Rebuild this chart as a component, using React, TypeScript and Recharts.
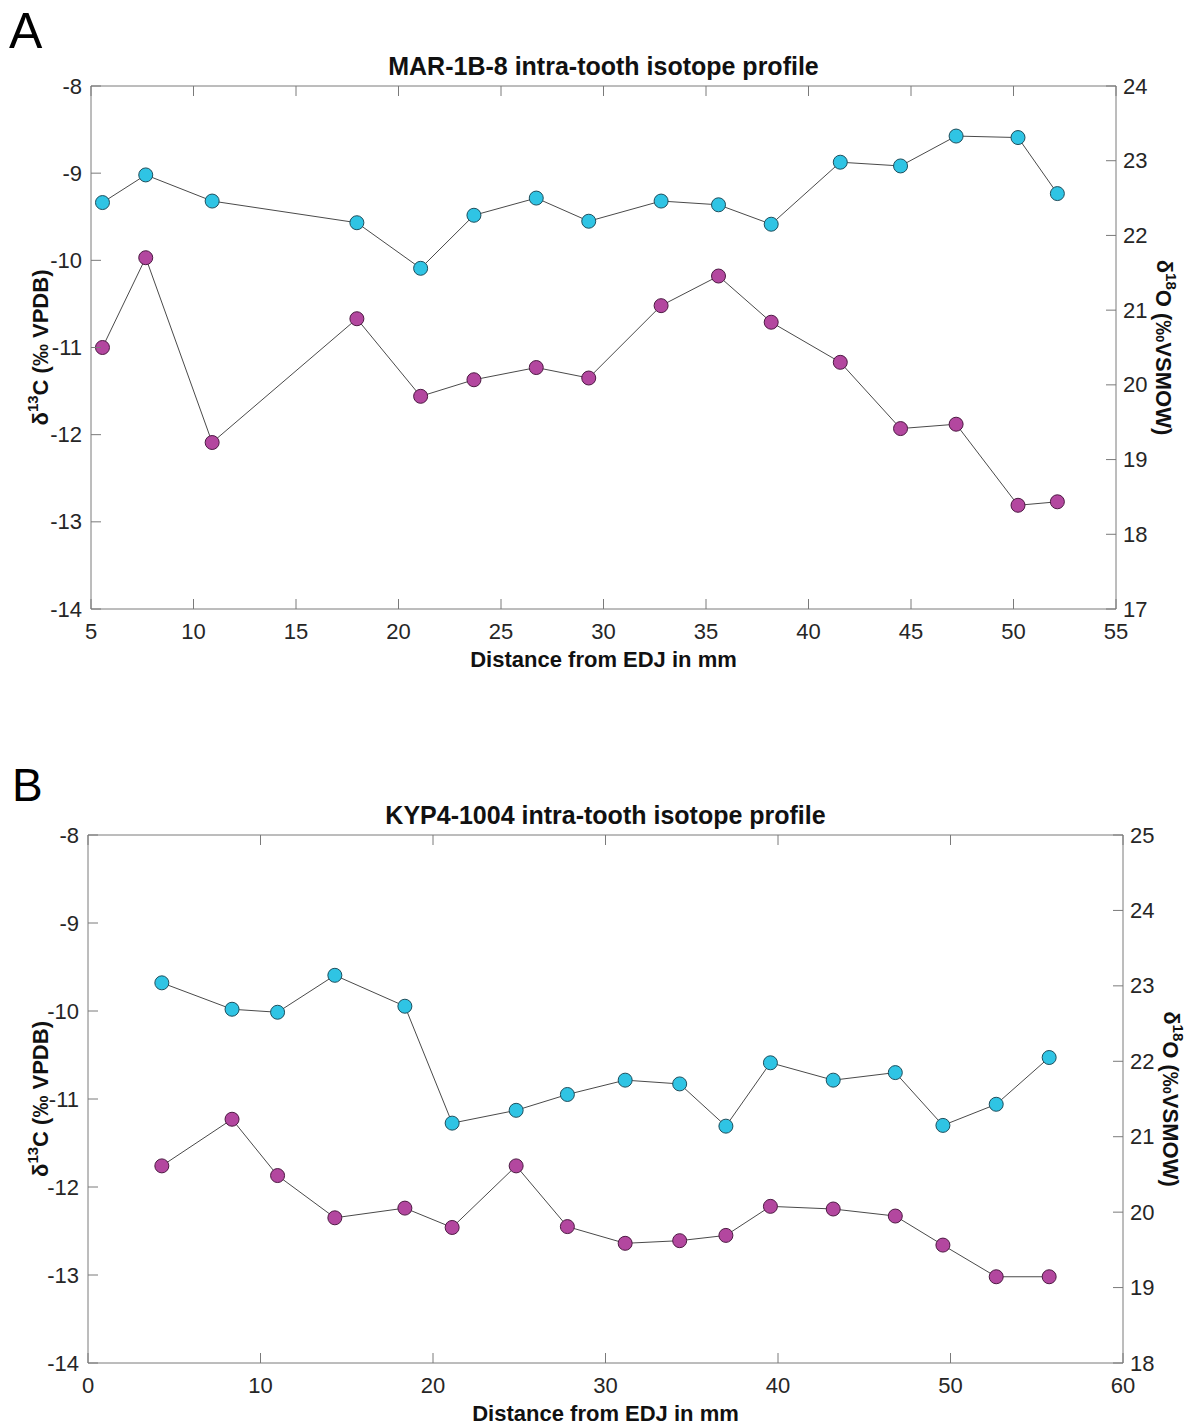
import React from "react";
import { LineChart, Line, XAxis, YAxis } from "recharts";

// Panel A - MAR-1B-8
const distA = [5.56, 7.67, 10.91, 17.97, 21.08, 23.68, 26.72, 29.28, 32.81, 35.61, 38.18, 41.55, 44.49, 47.2, 50.22, 52.14];
const carbonA = [-11.0, -9.97, -12.09, -10.67, -11.56, -11.37, -11.23, -11.35, -10.52, -10.18, -10.71, -11.17, -11.93, -11.88, -12.81, -12.77];
const oxygenA = [22.44, 22.81, 22.46, 22.17, 21.56, 22.27, 22.5, 22.19, 22.46, 22.41, 22.15, 22.98, 22.93, 23.33, 23.31, 22.56];

// Panel B - KYP4-1004
const distB = [4.28, 8.35, 10.99, 14.31, 18.37, 21.11, 24.82, 27.79, 31.14, 34.3, 36.98, 39.56, 43.2, 46.8, 49.56, 52.65, 55.72];
const carbonB = [-11.76, -11.23, -11.87, -12.35, -12.24, -12.46, -11.76, -12.45, -12.64, -12.61, -12.55, -12.22, -12.25, -12.33, -12.66, -13.02, -13.02];
const oxygenB = [23.04, 22.69, 22.65, 23.14, 22.73, 21.18, 21.35, 21.56, 21.75, 21.7, 21.14, 21.98, 21.75, 21.85, 21.15, 21.43, 22.05];

const xTicksA = [5, 10, 15, 20, 25, 30, 35, 40, 45, 50, 55];
const xTicksB = [0, 10, 20, 30, 40, 50, 60];
const carbonTicks = [-14, -13, -12, -11, -10, -9, -8];
const oxygenTicksA = [17, 18, 19, 20, 21, 22, 23, 24];
const oxygenTicksB = [18, 19, 20, 21, 22, 23, 24, 25];

const FONT = "'Liberation Sans', Arial, sans-serif";
const AXIS = "#7a7a7a";
const TEXT = "#262626";
const CYAN = "#2fc4e4";
const PURPLE = "#b3479f";
const GAP = 22; // tick label offset
const TICK = 10; // inward tick length

function BottomTick(props: any) {
  const { x, y, payload } = props;
  const ay = y - GAP;
  return (
    <g>
      <line x1={x} x2={x} y1={ay} y2={ay - TICK} stroke={AXIS} />
      <text x={x} y={y} textAnchor="middle" dominantBaseline="central" fontSize={22} fontFamily={FONT} fill={TEXT}>
        {payload.value}
      </text>
    </g>
  );
}

function TopTick(props: any) {
  const { x, y } = props;
  return <line x1={x} x2={x} y1={y} y2={y + TICK} stroke={AXIS} />;
}

function LeftTick(props: any) {
  const { x, y, payload } = props;
  const ax = x + 9;
  return (
    <g>
      <line x1={ax} x2={ax + TICK} y1={y} y2={y} stroke={AXIS} />
      <text x={x} y={y} textAnchor="end" dominantBaseline="central" fontSize={22} fontFamily={FONT} fill={TEXT}>
        {payload.value}
      </text>
    </g>
  );
}

function RightTick(props: any) {
  const { x, y, payload } = props;
  const ax = x - 7;
  return (
    <g>
      <line x1={ax} x2={ax - TICK} y1={y} y2={y} stroke={AXIS} />
      <text x={x} y={y} textAnchor="start" dominantBaseline="central" fontSize={22} fontFamily={FONT} fill={TEXT}>
        {payload.value}
      </text>
    </g>
  );
}

function XLabel(props: any) {
  const vb = props.viewBox;
  return (
    <text x={vb.x + vb.width / 2} y={vb.y + 50} textAnchor="middle" dominantBaseline="central" fontSize={22} fontWeight="bold" fontFamily={FONT} fill="#111">
      Distance from EDJ in mm
    </text>
  );
}

function CarbonLabel(props: any) {
  const vb = props.viewBox;
  const cx = vb.x + 40;
  const cy = vb.y + vb.height / 2;
  return (
    <text transform={`rotate(-90 ${cx} ${cy})`} x={cx} y={cy} textAnchor="middle" dominantBaseline="central" fontSize={22} fontWeight="bold" fontFamily={FONT} fill="#111">
      δ<tspan dy={-8} fontSize={15}>13</tspan>
      <tspan dy={8}>C (‰ VPDB)</tspan>
    </text>
  );
}

function OxygenLabel(props: any) {
  const vb = props.viewBox;
  const cx = vb.x + 48;
  const cy = vb.y + vb.height / 2;
  return (
    <text transform={`rotate(90 ${cx} ${cy})`} x={cx} y={cy} textAnchor="middle" dominantBaseline="central" fontSize={22} fontWeight="bold" fontFamily={FONT} fill="#111">
      δ<tspan dy={-8} fontSize={15}>18</tspan>
      <tspan dy={8}>O (‰VSMOW)</tspan>
    </text>
  );
}

type PanelProps = {
  letter: string;
  letterSize: number;
  letterTop: number;
  letterLeft: number;
  title: string;
  dist: number[];
  carbon: number[];
  oxygen: number[];
  xTicks: number[];
  oxygenTicks: number[];
  top: number;
  height: number;
  plotTop: number;
  plotBottom: number;
  plotLeft: number;
  plotRight: number;
};

function Panel(p: PanelProps) {
  const data = p.dist.map((d, i) => ({ dist: d, carbon: p.carbon[i], oxygen: p.oxygen[i] }));
  const xDomain = [p.xTicks[0], p.xTicks[p.xTicks.length - 1]];
  const oDomain = [p.oxygenTicks[0], p.oxygenTicks[p.oxygenTicks.length - 1]];
  const marginTop = p.plotTop - p.top - 1;
  const marginBottom = p.top + p.height - p.plotBottom - 60;

  return (
    <div style={{ position: "absolute", left: 0, top: p.top, width: 1188, height: p.height }}>
      <div
        style={{
          position: "absolute",
          left: p.letterLeft,
          top: p.letterTop,
          fontFamily: FONT,
          fontSize: p.letterSize,
          lineHeight: `${Math.round(p.letterSize * 1.12)}px`,
          color: "#000",
        }}
      >
        {p.letter}
      </div>
      <div
        style={{
          position: "absolute",
          left: p.plotLeft,
          width: p.plotRight - p.plotLeft,
          top: marginTop - 34,
          textAlign: "center",
          fontFamily: FONT,
          fontWeight: "bold",
          fontSize: 25,
          lineHeight: "30px",
          color: "#111",
        }}
      >
        {p.title}
      </div>
      <LineChart
        width={1188}
        height={p.height}
        data={data}
        margin={{ top: marginTop, right: 0, bottom: marginBottom, left: 0 }}
        style={{ position: "absolute", left: 0, top: 0 }}
      >
        <XAxis
          dataKey="dist"
          type="number"
          domain={xDomain}
          ticks={p.xTicks}
          interval={0}
          height={60}
          tickSize={0}
          tickMargin={GAP}
          tickLine={false}
          tick={<BottomTick />}
          axisLine={{ stroke: AXIS }}
          label={<XLabel />}
        />
        <XAxis
          xAxisId="top"
          orientation="top"
          dataKey="dist"
          type="number"
          domain={xDomain}
          ticks={p.xTicks}
          interval={0}
          height={1}
          tickSize={0}
          tickMargin={0}
          tickLine={false}
          tick={<TopTick />}
          axisLine={{ stroke: AXIS }}
        />
        <YAxis
          yAxisId="left"
          type="number"
          domain={[-14, -8]}
          ticks={carbonTicks}
          interval={0}
          width={p.plotLeft}
          tickSize={0}
          tickMargin={9}
          tickLine={false}
          tick={<LeftTick />}
          axisLine={{ stroke: AXIS }}
          label={<CarbonLabel />}
        />
        <YAxis
          yAxisId="right"
          orientation="right"
          type="number"
          domain={oDomain}
          ticks={p.oxygenTicks}
          interval={0}
          width={1188 - p.plotRight}
          tickSize={0}
          tickMargin={7}
          tickLine={false}
          tick={<RightTick />}
          axisLine={{ stroke: AXIS }}
          label={<OxygenLabel />}
        />
        <Line
          yAxisId="right"
          dataKey="oxygen"
          type="linear"
          stroke="#4a4a4a"
          strokeWidth={1}
          dot={{ r: 7, fill: CYAN, stroke: "#1f4e5c", strokeWidth: 1 }}
          isAnimationActive={false}
        />
        <Line
          yAxisId="left"
          dataKey="carbon"
          type="linear"
          stroke="#4a4a4a"
          strokeWidth={1}
          dot={{ r: 7, fill: PURPLE, stroke: "#4d1a43", strokeWidth: 1 }}
          isAnimationActive={false}
        />
      </LineChart>
    </div>
  );
}

export default function App() {
  return (
    <div style={{ position: "absolute", left: 0, top: 0, width: 1188, height: 1425, background: "#fff" }}>
      <Panel
        letter="A"
        letterSize={50}
        letterTop={3}
        letterLeft={9}
        title="MAR-1B-8 intra-tooth isotope profile"
        dist={distA}
        carbon={carbonA}
        oxygen={oxygenA}
        xTicks={xTicksA}
        oxygenTicks={oxygenTicksA}
        top={0}
        height={700}
        plotTop={86}
        plotBottom={609}
        plotLeft={91}
        plotRight={1116}
      />
      <Panel
        letter="B"
        letterSize={46}
        letterTop={9}
        letterLeft={12}
        title="KYP4-1004 intra-tooth isotope profile"
        dist={distB}
        carbon={carbonB}
        oxygen={oxygenB}
        xTicks={xTicksB}
        oxygenTicks={oxygenTicksB}
        top={750}
        height={675}
        plotTop={835}
        plotBottom={1363}
        plotLeft={88}
        plotRight={1123}
      />
    </div>
  );
}
